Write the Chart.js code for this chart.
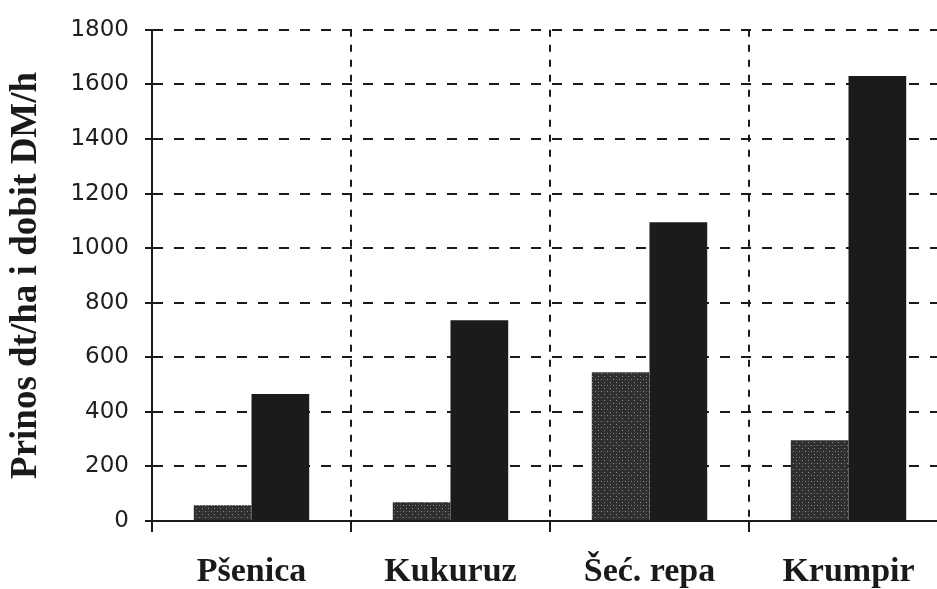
<!DOCTYPE html>
<html>
<head>
<meta charset="utf-8">
<script src="https://cdn.jsdelivr.net/npm/chart.js@4"></script>
<style>
    body { margin: 0; background: #fff; overflow: hidden; }
</style>
</head>
<body>
<canvas id="prinosChart" width="950" height="589"></canvas>
<script>
const kulture = ['Pšenica', 'Kukuruz', 'Šeć. repa', 'Krumpir'];
const prinos = [58, 69, 545, 296];
const dobit = [465, 736, 1095, 1631];
const yTicks = [0, 200, 400, 600, 800, 1000, 1200, 1400, 1600, 1800];

// tockasti uzorak za sive stupce
function tockice() {
    const c = document.createElement('canvas');
    c.width = 6;
    c.height = 6;
    const g = c.getContext('2d');
    g.fillStyle = '#2f2f2f';
    g.fillRect(0, 0, 6, 6);
    g.fillStyle = '#8c8c8c';
    g.fillRect(1, 1, 1, 1);
    g.fillRect(4, 4, 1, 1);
    g.fillStyle = '#5a5a5a';
    g.fillRect(4, 1, 1, 1);
    return g.createPattern(c, 'repeat');
}

const ctx = document.getElementById('prinosChart');

new Chart(ctx, {
    type: 'bar',
    data: {
        labels: kulture,
        datasets: [
            {
                label: 'Prinos dt/ha',
                data: prinos,
                backgroundColor: tockice(),
                borderWidth: 0,
                barPercentage: 1.0,
                categoryPercentage: 0.58,
            },
            {
                label: 'Dobit DM/h',
                data: dobit,
                backgroundColor: '#1b1b1b',
                borderWidth: 0,
                barPercentage: 1.0,
                categoryPercentage: 0.58,
            },
        ],
    },
    options: {
        responsive: false,
        animation: false,
        layout: {
            padding: { top: 22, right: 2, left: 0, bottom: 0 },
        },
        plugins: {
            legend: { display: false },
            tooltip: { enabled: false },
        },
        scales: {
            x: {
                afterFit: function (scale) {
                    scale.height = 68;
                },
                border: {
                    display: true,
                    color: '#1a1a1a',
                    width: 2,
                    dash: function (c) {
                        return c.index === 0 ? [] : [7, 8];
                    },
                },
                grid: {
                    color: '#1a1a1a',
                    lineWidth: 2,
                    tickLength: 11,
                    tickColor: '#1a1a1a',
                    tickBorderDash: [],
                },
                ticks: {
                    color: '#1a1a1a',
                    padding: 20,
                    minRotation: 0,
                    maxRotation: 0,
                    font: { family: '"Liberation Serif", "DejaVu Serif", serif', size: 34, weight: 'bold' },
                },
            },
            y: {
                min: 0,
                max: 1800,
                afterFit: function (scale) {
                    scale.width = 152;
                },
                afterBuildTicks: function (scale) {
                    scale.ticks = yTicks.map(function (v) { return { value: v }; });
                },
                border: {
                    display: true,
                    color: '#1a1a1a',
                    width: 2,
                    dash: function (c) {
                        return c.tick && c.tick.value === 0 ? [] : [10, 11];
                    },
                },
                grid: {
                    color: '#1a1a1a',
                    lineWidth: 2,
                    tickLength: 7,
                    tickColor: '#1a1a1a',
                    tickBorderDash: [],
                },
                ticks: {
                    color: '#1e1e1e',
                    padding: 16,
                    font: { family: '"DejaVu Sans", sans-serif', size: 23 },
                    callback: function (value) {
                        return String(value);
                    },
                },
                title: {
                    display: true,
                    text: 'Prinos dt/ha i dobit DM/h',
                    color: '#1a1a1a',
                    padding: { top: 4, bottom: 0 },
                    font: { family: '"Liberation Serif", "DejaVu Serif", serif', size: 37, weight: 'bold' },
                },
            },
        },
    },
});
</script>
</body>
</html>
